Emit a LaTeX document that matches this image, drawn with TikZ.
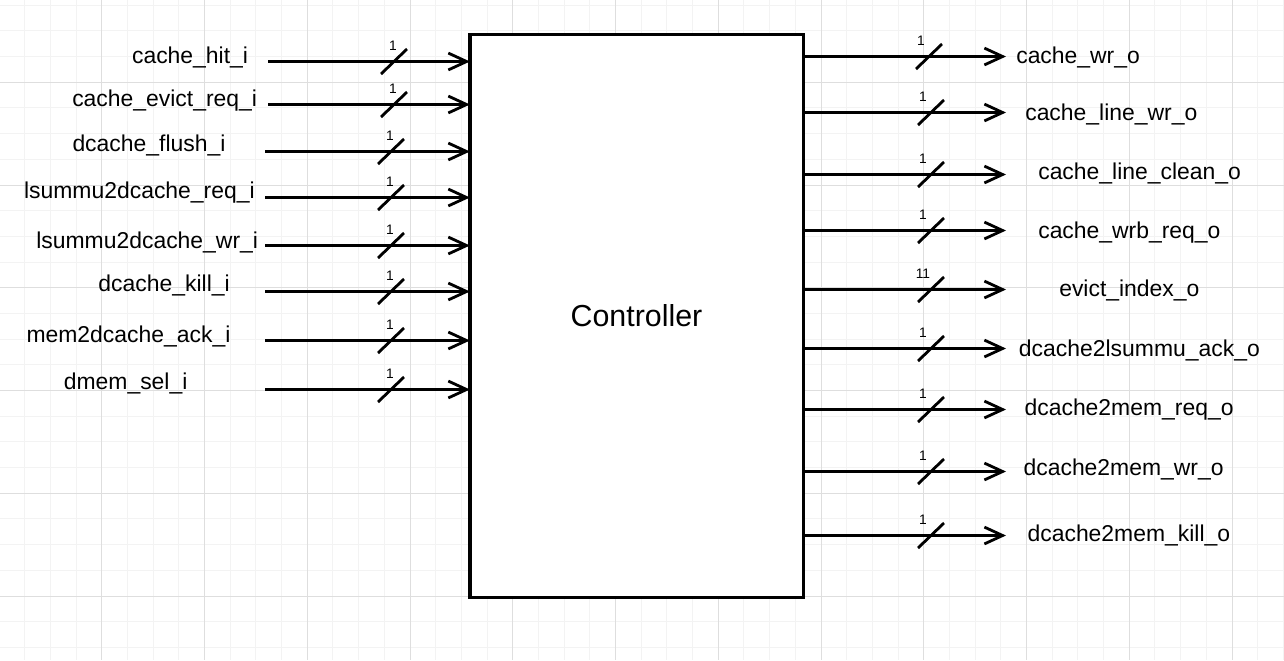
\documentclass[tikz,border=0pt]{standalone}
\usepackage{fontspec}
\setmainfont{Liberation Sans}
\usetikzlibrary{arrows.meta}
\definecolor{gridlo}{RGB}{243,243,243}
\definecolor{gridhi}{RGB}{222,222,222}
\definecolor{ink}{RGB}{0,0,0}
\tikzset{
  >={Straight Barb[length=13pt,width=12pt]},
  sig/.style={->,draw=ink,line width=2pt},
  port/.style={font=\fontsize{16.3}{19}\selectfont,text=ink,inner sep=0pt},
  buswidth/.style={font=\fontsize{9.8}{11}\selectfont,text=ink,inner sep=0pt},
  block/.style={draw=ink,fill=white,line width=2.2pt,inner sep=0pt,outer sep=0pt,
    minimum width=8.325cm,minimum height=14.05cm,font=\fontsize{21.6}{26}\selectfont},
  minor/.style={draw=gridlo,line width=0.7pt},
  major/.style={draw=gridhi,line width=0.7pt},
  % bus slash with its width
  pics/bus/.style n args={2}{code={
    \draw[ink,line width=2pt] (-13,12.5) -- (13,-12.5);
    \node[buswidth] at (#1,-16) {#2};
  }},
}
\begin{document}
\begin{tikzpicture}[x=0.025cm,y=-0.025cm]
  \useasboundingbox[fill=white] (0,0) rectangle (1284,660);
  % grid
  \foreach \i in {0,...,50} \draw[minor] ({-1+\i*25.6875},0) -- ++(0,660);
  \foreach \j in {1,...,26} \draw[minor] (0,{-20.5+\j*25.6875}) -- ++(1284,0);
  \foreach \i in {0,...,12} \draw[major] ({-1+\i*102.75},0) -- ++(0,660);
  \foreach \j in {1,...,6} \draw[major] (0,{-20.5+\j*102.75}) -- ++(1284,0);

  \node[block] (ctl) at (636.5,316) {Controller};

  \foreach \n/\y/\ly/\lx/\sx/\bx [count=\i] in {
    cache\_hit\_i/61.5/63.3/248.3/268.3/394,
    cache\_evict\_req\_i/104.5/106.7/257.3/268.3/394,
    dcache\_flush\_i/151.5/151.7/225.7/265/391,
    lsummu2dcache\_req\_i/197.5/198.3/255/265/391,
    lsummu2dcache\_wr\_i/245.5/248.3/258.3/265/391,
    dcache\_kill\_i/291.5/291.7/230/265/391,
    mem2dcache\_ack\_i/340.5/342.7/230.7/265/391,
    dmem\_sel\_i/389.5/389.3/187.7/265/391}
  {
    \node[port,anchor=base east] (in\i) at (\lx,\ly) {\n};
    \coordinate (src\i) at (\sx,\y);
    \draw[sig] (src\i) -- (ctl.west |- src\i);
    \pic at (\bx,\y) {bus={-1}{1}};
  }

  \foreach \n/\y/\ly/\lx/\bx/\w [count=\i] in {
    cache\_wr\_o/56.5/63.3/1016/929/1,
    cache\_line\_wr\_o/112.5/120/1025/931/1,
    cache\_line\_clean\_o/174.5/179.3/1038/931/1,
    cache\_wrb\_req\_o/230.5/238.3/1038/931/1,
    evict\_index\_o/289.5/296/1059/931/11,
    dcache2lsummu\_ack\_o/348.5/356/1018.7/931/1,
    dcache2mem\_req\_o/409.5/415/1024.3/931/1,
    dcache2mem\_wr\_o/471.5/475.7/1023.3/931/1,
    dcache2mem\_kill\_o/535.5/541/1027.3/931/1}
  {
    \coordinate (dst\i) at (1006,\y);
    \draw[sig] (ctl.east |- dst\i) -- (dst\i);
    \node[port,anchor=base west] (out\i) at (\lx,\ly) {\n};
    \pic at (\bx,\y) {bus={-8}{\w}};
  }
\end{tikzpicture}
\end{document}
